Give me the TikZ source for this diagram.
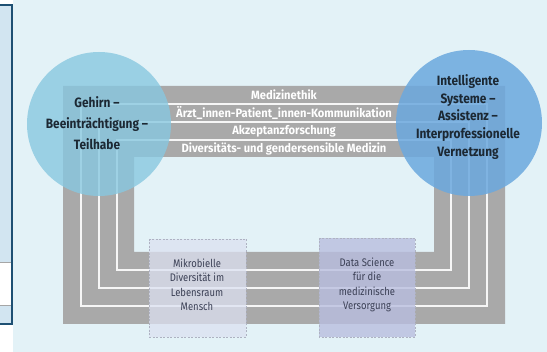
\documentclass[tikz,border=0pt]{standalone}
\usepackage{fontspec}
\setmainfont{Fira Sans}
\newfontfamily\barfont{Fira Sans}[FakeStretch=0.93]
\newfontfamily\hubfont{Fira Sans}[FakeStretch=0.88]
\newfontfamily\fieldfont{Fira Sans}[FakeStretch=0.86]
\begin{document}
\definecolor{pagebg}{HTML}{E3F2F7}
\definecolor{panelfill}{HTML}{D2E5F1}
\definecolor{panelline}{HTML}{1E5073}
\definecolor{framegray}{HTML}{A9A9A9}
\definecolor{leftblue}{HTML}{88C8E0}
\definecolor{rightblue}{HTML}{6BA8DE}
\definecolor{darktext}{HTML}{1C2833}
\definecolor{boxtext}{HTML}{3B4055}
\definecolor{boxlightfill}{HTML}{DCE1F1}
\definecolor{boxdarkfill}{HTML}{B9BEDF}
\definecolor{boxedge}{HTML}{AEB2C2}
\begin{tikzpicture}[x=1pt,y=-1pt,
  strand/.style={draw=white,line width=1.2pt,opacity=0.9},
  bartext/.style={text=white,font=\barfont\bfseries\fontsize{12}{14}\selectfont,inner sep=0pt},
  hubtext/.style={text=darktext,align=center,inner sep=0pt},
  fieldbox/.style={draw=boxedge,line width=0.8pt,dash pattern=on 2pt off 1.5pt},
  fieldtext/.style={text=boxtext,align=center,inner sep=0pt,
    font=\fieldfont\fontsize{11}{14.5}\selectfont}]
% canvas and page background
\useasboundingbox (0,0) rectangle (547,352);
\fill[white] (0,0) rectangle (547,352);
\fill[pagebg] (13,0) rectangle (547,352);
% neighbouring panel at the left edge
\fill[panelfill] (-5,5) rectangle (12,324);
\filldraw[fill=white,draw=gray!70,line width=0.8pt] (-5,262) rectangle (11,305);
\draw[panelline,line width=2.5pt] (-5,5) rectangle (12,324);
% grey frame
\fill[framegray,even odd rule] (63,86) rectangle (505,324) (134,157) rectangle (434,252);
% white strands running round the frame
\draw[strand] (81,104) rectangle (487,306);
\draw[strand] (99,122) rectangle (469,288);
\draw[strand] (117,140) rectangle (451,270);
% labels of the strands
\node[bartext] (ethik) at (284,95) {Medizinethik};
\node[bartext] (komm) at (284,113) {Ärzt\_innen-Patient\_innen-Kommunikation};
\node[bartext] (akzept) at (284,131) {Akzeptanzforschung};
\node[bartext] (gender) at (284,148.5) {Diversitäts- und gendersensible Medizin};
% the two hubs
\fill[leftblue,opacity=0.8] (99,124) circle (72);
\fill[rightblue,opacity=0.85] (469,123) circle (73);
\node[hubtext,font=\hubfont\bfseries\fontsize{13.5}{21}\selectfont] (gehirn) at (97,123)
  {Gehirn –\\Beeinträchtigung –\\Teilhabe};
\node[hubtext,font=\hubfont\bfseries\fontsize{13.5}{17.8}\selectfont] (systeme) at (468,117)
  {Intelligente\\Systeme –\\Assistenz –\\Interprofessionelle\\Vernetzung};
% fields at the bottom
\filldraw[fieldbox,fill=boxlightfill,fill opacity=0.75] (149,239) rectangle (246,337);
\filldraw[fieldbox,fill=boxdarkfill,fill opacity=0.8] (319,238) rectangle (415,337);
\node[fieldtext] (mikro) at (197,285) {Mikrobielle\\Diversität im\\Lebensraum\\Mensch};
\node[fieldtext] (data) at (367,285) {Data Science\\für die\\medizinische\\Versorgung};
\end{tikzpicture}
\end{document}
